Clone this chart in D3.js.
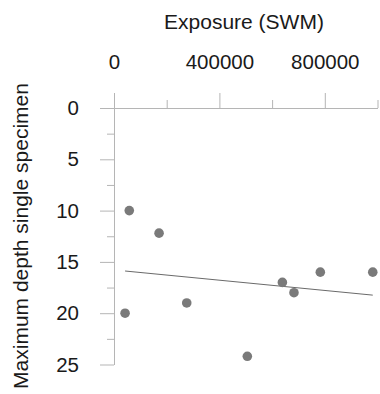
<!DOCTYPE html>
<html><head><meta charset="utf-8">
<script src="https://cdn.jsdelivr.net/npm/d3@7"></script>
<style>
html,body{margin:0;padding:0;background:#fff;}
svg{display:block;font-family:"Liberation Sans",Arial,sans-serif;}
</style></head>
<body>
<svg id="chart" width="380" height="394"></svg>
<script>
// Data
const exposure = [58000, 171000, 783000, 982000, 639000, 683000, 276000, 42000, 506000];
const maxDepth = [10, 12.2, 16, 16, 17, 18, 19, 20, 24.2];
const xMajorTicks = [0, 400000, 800000];
const xMinorTicks = [200000, 600000, 1000000];
const yMajorTicks = [0, 5, 10, 15, 20, 25];
const yMinorTicks = [2.5, 7.5, 12.5, 17.5, 22.5];
const xTitle = "Exposure (SWM)";
const yTitle = "Maximum depth single specimen";

const svg = d3.select("#chart");
const x = d3.scaleLinear().domain([0, 1000000]).range([114, 377.5]);
const y = d3.scaleLinear().domain([0, 25]).range([108, 364.5]);

const axisColor = "#b5b5b5";
const textColor = "#1a1a1a";

function styleAxis(g) {
  g.selectAll("path.domain").attr("stroke", axisColor).attr("stroke-width", 1);
  g.selectAll(".tick line").attr("stroke", axisColor).attr("stroke-width", 1);
  g.selectAll(".tick text").attr("fill", textColor).attr("font-size", 20.5)
    .attr("font-family", '"Liberation Sans",Arial,sans-serif');
}

// X axis (top)
const gx = svg.append("g").attr("transform", `translate(0,${y(0)})`)
  .call(d3.axisTop(x).tickValues(xMajorTicks).tickSize(15).tickSizeOuter(0)
    .tickPadding(24).tickFormat(d3.format("d")));
styleAxis(gx);
const gxm = svg.append("g").attr("transform", `translate(0,${y(0)})`)
  .call(d3.axisTop(x).tickValues(xMinorTicks).tickSize(8).tickSizeOuter(0).tickFormat(""));
styleAxis(gxm);

// Y axis (left)
const gy = svg.append("g").attr("transform", `translate(${x(0)},0)`)
  .call(d3.axisLeft(y).tickValues(yMajorTicks).tickSize(14).tickSizeOuter(0)
    .tickPadding(21).tickFormat(d3.format("d")));
styleAxis(gy);
const gym = svg.append("g").attr("transform", `translate(${x(0)},0)`)
  .call(d3.axisLeft(y).tickValues(yMinorTicks).tickSize(7).tickSizeOuter(0).tickFormat(""));
styleAxis(gym);

// Titles
svg.append("text").attr("x", 244).attr("y", 29).attr("text-anchor", "middle")
  .attr("font-size", 21).attr("fill", textColor).text(xTitle);
svg.append("text").attr("transform", "translate(28,236) rotate(-90)")
  .attr("text-anchor", "middle").attr("font-size", 21).attr("fill", textColor).text(yTitle);

// Least-squares trend line fitted to the data
const n = exposure.length;
const mx = d3.mean(exposure), my = d3.mean(maxDepth);
let sxy = 0, sxx = 0;
for (let i = 0; i < n; i++) {
  sxy += (exposure[i] - mx) * (maxDepth[i] - my);
  sxx += (exposure[i] - mx) ** 2;
}
const slope = sxy / sxx, intercept = my - slope * mx;
const [xmin, xmax] = d3.extent(exposure);
svg.append("line")
  .attr("x1", x(xmin)).attr("y1", y(intercept + slope * xmin))
  .attr("x2", x(xmax)).attr("y2", y(intercept + slope * xmax))
  .attr("stroke", "#6a6a6a").attr("stroke-width", 1);

// Points
svg.append("g").selectAll("circle")
  .data(exposure.map((d, i) => ({x: d, y: maxDepth[i]})))
  .join("circle")
  .attr("cx", d => x(d.x)).attr("cy", d => y(d.y)).attr("r", 4.8)
  .attr("fill", "#7a7a7a");
</script>
</body></html>
